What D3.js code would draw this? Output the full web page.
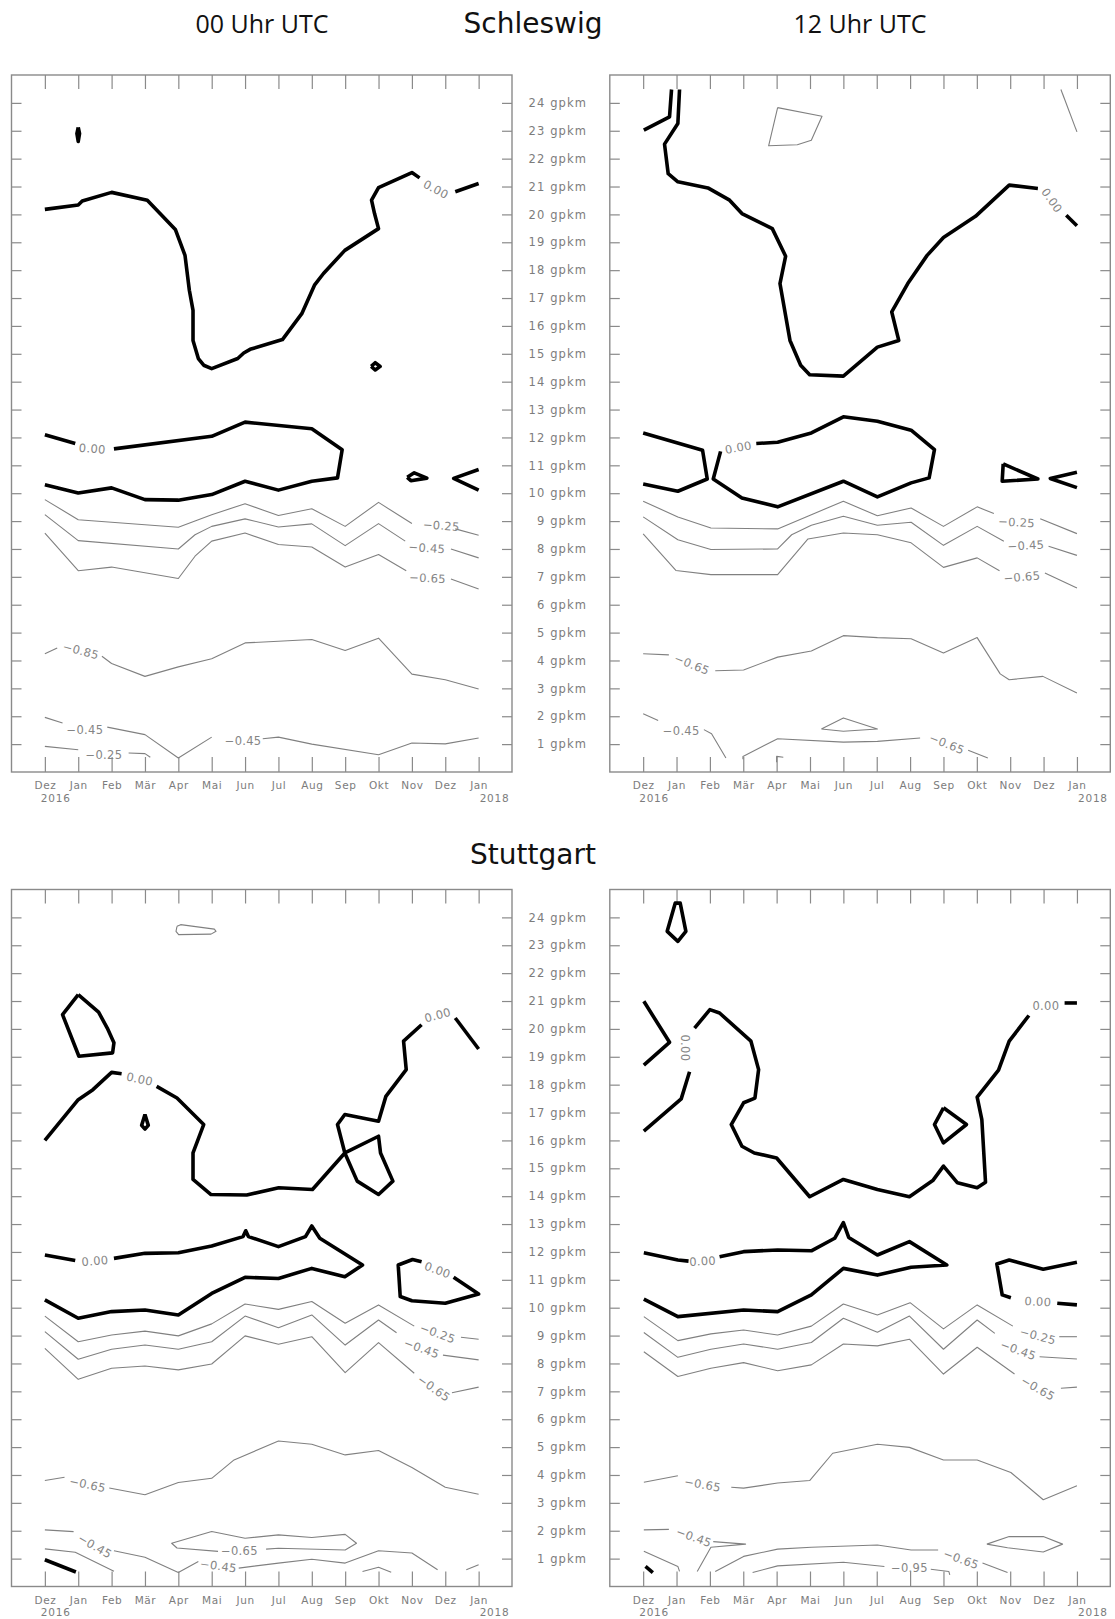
<!DOCTYPE html>
<html><head><meta charset="utf-8">
<script src="https://cdnjs.cloudflare.com/ajax/libs/d3/7.8.5/d3.min.js"></script>
<style>
html,body{margin:0;padding:0;background:#fff;}
svg{display:block;}
</style></head>
<body>
<svg id="chart" width="1115" height="1619"></svg>
<script>
// ---------------- axis data ----------------
const months = ["Dez","Jan","Feb","Mär","Apr","Mai","Jun","Jul","Aug","Sep","Okt","Nov","Dez","Jan"];
const yearLabels = [["2016",0,-4],["2018",13,1]];
const heightTicks = d3.range(1,25);
const stations = ["Schleswig","Stuttgart"];
const timeTitles = ["00 Uhr UTC","12 Uhr UTC"];

// ---------------- Schleswig 00 UTC ----------------
const sl00Bold = [
 [[0,20.18],[1,20.34],[1.12,20.48],[2,20.79],[3.07,20.51],[3.48,20.0],[3.91,19.46],[4.2,18.53],[4.33,17.28],[4.44,16.56],[4.44,15.48],[4.6,14.83],[4.76,14.59],[5,14.47],[5.78,14.83],[5.96,15.03],[6.15,15.16],[7.12,15.51],[7.7,16.44],[8.08,17.46],[8.35,17.88],[8.99,18.71],[10,19.49],[9.88,20.03],[9.79,20.51],[10,20.96],[11,21.5],[11.23,21.31]],
 [[12.3,20.81],[13,21.11]],
 [[1,23.12],[1.04,22.9],[1,22.62],[0.96,22.9],[1,23.12]],
 [[9.78,14.55],[9.9,14.68],[10.05,14.55],[9.9,14.42],[9.78,14.55]],
 [[0,12.1],[0.91,11.78]],
 [[2.07,11.59],[5,12.04],[6,12.55],[8,12.31],[8.91,11.56],[8.77,10.55],[8,10.43],[7,10.11],[6,10.43],[5,9.95],[4,9.75],[3,9.77],[2,10.19],[1,10.01],[0,10.3]],
 [[10.86,10.57],[11.07,10.73],[11.45,10.54],[10.97,10.45],[10.86,10.57]],
 [[13,10.85],[12.25,10.53],[13,10.11]]
];
const sl00Thin = [
 [[0,9.77],[1,9.05],[4,8.78],[5,9.23],[6,9.62],[7,9.2],[8,9.44],[9,8.81],[10,9.67],[11,8.91]],
 [[12.3,8.72],[13,8.49]],
 [[0,9.23],[1,8.3],[4,8.0],[4.5,8.51],[5,8.81],[6,9.08],[7,8.79],[8,8.9],[9,8.12],[10,8.91],[10.8,8.28]],
 [[12.17,8.0],[13,7.68]],
 [[0,8.57],[1,7.22],[2,7.35],[4,6.94],[4.5,7.74],[5,8.28],[6,8.57],[7,8.16],[8,8.07],[9,7.35],[10,7.8],[10.83,7.22]],
 [[12.17,6.92],[13,6.56]],
 [[0,4.24],[0.37,4.45]],
 [[1.71,4.15],[2,3.89],[3,3.43],[4,3.77],[5,4.06],[6,4.63],[7,4.69],[8,4.75],[9,4.36],[10,4.8],[11,3.51],[12,3.31],[13,2.98]],
 [[0,1.96],[0.53,1.76]],
 [[1.87,1.61],[3,1.34],[4,0.5],[5,1.25]],
 [[6.53,1.19],[7,1.25],[8,1.0],[10,0.62],[11,1.04],[12,1.01],[13,1.22]],
 [[0,0.92],[1,0.8]],
 [[2.51,0.68],[3,0.66],[3.16,0.53]]
];
const sl00Labels = [
 ["0.00",11.72,20.9,28],["0.00",1.42,11.6,4],["\u22120.25",11.88,8.84,4],["\u22120.45",11.45,8.04,4],
 ["\u22120.65",11.47,6.96,3],["\u22120.85",1.08,4.35,15],["\u22120.45",1.2,1.5,0],["\u22120.45",5.94,1.12,0],["\u22120.25",1.77,0.6,0]
];

// ---------------- Schleswig 12 UTC ----------------
const sl12Bold = [
 [[0.02,23.02],[0.79,23.5],[0.85,24.48]],
 [[1.09,24.48],[1.04,23.26],[0.64,22.52],[0.75,21.46],[1.04,21.17],[1.94,20.95],[2.59,20.51],[2.96,20.03],[3.87,19.49],[4.27,18.5],[4.1,17.52],[4.4,15.48],[4.72,14.59],[4.99,14.25],[6,14.2],[7.02,15.24],[7.66,15.48],[7.45,16.5],[7.93,17.52],[8.51,18.53],[9,19.17],[9.96,19.93],[10.97,21.05],[11.83,20.93]],
 [[12.68,19.97],[13,19.59]],
 [[0,12.16],[1.78,11.54],[1.92,10.51],[1.04,10.07],[0,10.33]],
 [[2.32,11.5],[2.1,10.51],[2.96,9.83],[4.03,9.51],[6,10.43],[7.02,9.87],[8.03,10.37],[8.57,10.55],[8.73,11.56],[8.03,12.26],[7.02,12.58],[6,12.74],[5.04,12.16],[4.03,11.83],[3.39,11.78]],
 [[10.79,11.05],[10.76,10.43],[11.83,10.51],[10.79,11.05]],
 [[13,10.75],[12.2,10.53],[13,10.2]]
];
const sl12Thin = [
 [[4.03,23.83],[5.36,23.52],[5.04,22.66],[4.62,22.5],[3.76,22.46],[4.03,23.83]],
 [[12.52,24.48],[13,22.96]],
 [[0,9.71],[1.04,9.15],[2.03,8.75],[4.03,8.72],[5.04,9.23],[6,9.71],[7.02,9.19],[8.03,9.47],[9,8.81],[10.01,9.51],[10.51,9.27]],
 [[11.9,9.08],[13,8.55]],
 [[0,9.15],[1.04,8.33],[2.03,7.98],[4.03,8.0],[4.45,8.51],[5.04,8.85],[6,9.17],[7.02,8.85],[8.03,8.96],[9,8.13],[10.01,8.81],[10.81,8.28]],
 [[12.15,8.1],[13,7.77]],
 [[0,8.54],[0.98,7.23],[2.03,7.08],[4.03,7.08],[4.94,8.36],[6,8.57],[7.02,8.51],[8.03,8.22],[9,7.34],[10.01,7.68],[10.68,7.22]],
 [[12.04,7.14],[13,6.6]],
 [[0,4.24],[0.77,4.2]],
 [[2.16,3.63],[3.01,3.66],[4.03,4.12],[5.04,4.34],[6,4.89],[7.02,4.82],[8.03,4.78],[9,4.27],[10.01,4.82],[10.7,3.52],[10.97,3.31],[11.98,3.43],[13,2.83]],
 [[0,2.09],[0.45,1.85]],
 [[1.82,1.52],[2.05,1.37],[2.48,0.5]],
 [[2.99,0.46],[2.99,0.56],[4.03,1.19],[6,1.07],[7.02,1.1],[8.3,1.22]],
 [[9.74,0.78],[10.33,0.5]],
 [[5.34,1.54],[6,1.94],[7.02,1.54],[6,1.46],[5.34,1.54]],
 [[4.0,0.35],[4.0,0.56],[4.2,0.53]]
];
const sl12Labels = [
 ["0.00",12.25,20.5,55],["0.00",2.85,11.64,-10],["\u22120.25",11.19,8.96,3],["\u22120.45",11.47,8.13,-3],
 ["\u22120.65",11.35,7.0,-5],["\u22120.65",1.46,3.86,22],["\u22120.45",1.14,1.49,0],["\u22120.65",9.1,1.01,22]
];

// ---------------- Stuttgart 00 UTC ----------------
const st00Bold = [
 [[1,21.23],[1.61,20.6],[1.87,20.03],[2.07,19.5],[2.03,19.14],[1.02,19.02],[0.53,20.51],[1,21.23]],
 [[0,16.0],[1,17.46],[1.44,17.82],[2,18.44],[2.3,18.39]],
 [[3.35,17.94],[3.96,17.52],[4.76,16.57],[4.44,15.55],[4.44,14.6],[4.98,14.06],[6.05,14.04],[7.01,14.3],[8.02,14.24],[8.99,15.55],[10,16.15],[10.06,15.55],[10.43,14.54],[10,14.06],[9.36,14.54],[8.99,15.55],[8.77,16.57],[8.99,16.93],[10,16.69],[10.22,17.58],[10.83,18.54],[10.75,19.56],[11.29,20.15]],
 [[12.3,20.39],[13,19.28]],
 [[3,16.93],[3.1,16.54],[3,16.41],[2.9,16.54],[3,16.93]],
 [[0,11.89],[0.91,11.69]],
 [[2.07,11.77],[3,11.95],[4,11.97],[5,12.21],[5.94,12.55],[6.02,12.76],[6.1,12.55],[7,12.19],[7.81,12.55],[8,12.93],[8.24,12.49],[9.52,11.53],[8.99,11.11],[8,11.41],[7,11.05],[6,11.09],[5,10.51],[4,9.74],[3,9.92],[2,9.86],[1,9.62],[0,10.28]],
 [[11.29,11.65],[11.02,11.73],[10.59,11.53],[10.65,10.4],[11,10.25],[12,10.16],[13,10.49],[12.25,11.09]],
 [[0,0.96],[0.93,0.52]]
];
const st00Thin = [
 [[3.96,23.68],[4.07,23.74],[5.08,23.58],[5.13,23.5],[4.98,23.4],[4.01,23.38],[3.93,23.5],[3.96,23.68]],
 [[0,9.7],[1,8.78],[2,9.02],[3,9.16],[4,8.99],[5,9.42],[6,10.13],[7,9.94],[8,10.22],[9,9.44],[10,10.1],[11.07,9.34]],
 [[12.47,8.94],[13,8.87]],
 [[0,9.14],[1,8.15],[2,8.51],[3,8.66],[4,8.51],[5,8.78],[6,9.7],[7,9.28],[8,9.74],[9,8.66],[10,9.56],[10.54,9.1]],
 [[11.93,8.3],[13,8.13]],
 [[0,8.54],[1,7.43],[2,7.83],[3,7.91],[4,7.77],[5,7.98],[6,8.99],[7,8.69],[8,8.96],[9,7.67],[10,8.75],[11.07,7.65]],
 [[12.2,6.95],[13,7.15]],
 [[0,3.8],[0.59,3.92]],
 [[1.93,3.53],[3,3.29],[4,3.73],[5,3.88],[5.67,4.54],[7,5.22],[8,5.1],[9,4.72],[10,4.88],[11,4.27],[12,3.56],[13,3.31]],
 [[0,2.03],[0.86,1.97]],
 [[2.07,1.28],[3,1.05],[4,0.5],[4.6,0.9]],
 [[5.81,0.66],[7,0.84],[8,0.98],[9,0.84],[10,1.28],[11,1.2],[11.77,0.6]],
 [[0,1.35],[0.91,1.23],[2.07,0.55]],
 [[9.52,0.54],[10,0.69],[10.38,0.51]],
 [[12.63,0.6],[13,0.78]],
 [[6.63,1.34],[7,1.37],[9,1.31],[9.34,1.55],[9,1.87],[8,1.76],[7,1.85],[6,1.73],[5,1.97],[3.8,1.55],[3.96,1.38],[5.19,1.26]]
];
const st00Labels = [
 ["0.00",2.84,18.2,12],["0.00",11.77,20.5,-15],["0.00",11.77,11.35,20],["0.00",1.5,11.68,-4],
 ["\u22120.25",11.77,9.08,20],["\u22120.45",11.29,8.54,20],["\u22120.65",11.66,7.11,35],["\u22120.65",1.28,3.66,12],
 ["\u22120.45",1.5,1.45,30],["\u22120.65",5.83,1.29,0],["\u22120.45",5.2,0.74,8]
];

// ---------------- Stuttgart 12 UTC ----------------
const st12Bold = [
 [[1.04,24.51],[1.11,24.51],[1.28,23.5],[1.04,23.14],[0.72,23.5],[0.96,24.51],[1.04,24.51]],
 [[0.02,20.99],[0.79,19.52],[0.02,18.7]],
 [[0.02,16.33],[1.14,17.49],[1.39,18.46]],
 [[1.54,20.03],[2,20.69],[2.29,20.57],[3.23,19.56],[3.46,18.54],[3.35,17.52],[3.01,17.35],[2.64,16.57],[2.96,15.79],[3.33,15.55],[4,15.37],[4.99,13.98],[6,14.6],[7.02,14.24],[7.98,13.98],[8.68,14.56],[9,15.08],[9.42,14.48],[10.01,14.3],[10.26,14.5],[10.15,16.75],[10.01,17.55],[10.65,18.52],[10.97,19.56],[11.56,20.48]],
 [[12.63,20.93],[13,20.93]],
 [[9,17.17],[9.69,16.57],[9,15.91],[8.73,16.57],[9,17.17]],
 [[0.02,11.97],[1.04,11.71],[1.36,11.67]],
 [[2.29,11.83],[3.01,12.01],[4.03,12.07],[5.04,12.04],[5.74,12.49],[6,13.05],[6.16,12.52],[7.02,11.89],[7.98,12.37],[9.1,11.53],[8.03,11.45],[7.02,11.17],[6,11.41],[5.04,10.46],[4.03,9.86],[3.01,9.92],[1.04,9.68],[0.02,10.31]],
 [[13,11.63],[11.99,11.38],[10.97,11.71],[10.6,11.57],[10.76,10.46],[11.02,10.36]],
 [[12.41,10.16],[13,10.1]],
 [[0.07,0.72],[0.29,0.5]]
];
const st12Thin = [
 [[0.02,9.68],[1.04,8.82],[2.03,9.06],[3.01,9.2],[4.03,9.02],[5.04,9.34],[6,10.13],[7.02,9.74],[8,10.18],[9,9.24],[10.01,10.1],[11.08,9.34]],
 [[12.47,8.96],[13,8.96]],
 [[0.02,9.11],[1.04,8.22],[2.03,8.51],[3.01,8.7],[4.03,8.51],[5.04,8.75],[6,9.62],[7.02,9.12],[7.98,9.7],[9,8.51],[10.01,9.56],[10.54,9.08]],
 [[11.88,8.24],[13,8.16]],
 [[0.02,8.42],[1.04,7.53],[2.03,7.83],[3.01,8.03],[4.03,7.74],[5.04,7.95],[6,8.7],[7.02,8.63],[7.98,8.87],[9,7.62],[10.01,8.58],[11.13,7.62]],
 [[12.52,7.11],[13,7.15]],
 [[0.02,3.74],[1.04,3.97]],
 [[2.64,3.56],[3.01,3.53],[4.03,3.71],[4.99,3.8],[5.68,4.78],[7.02,5.1],[7.98,4.99],[9,4.54],[10.01,4.54],[11.02,4.09],[11.99,3.11],[13,3.61]],
 [[0.02,2.03],[0.77,2.05]],
 [[2.1,1.61],[3.07,1.52],[2.03,1.41],[1.62,0.54]],
 [[0.02,1.26],[1.04,0.72],[1.09,0.54]],
 [[2.16,0.54],[3.01,1.08],[4.03,1.34],[5.04,1.41],[7.02,1.49],[8.03,1.31],[8.84,1.31]],
 [[10.17,0.84],[10.92,0.5]],
 [[3.28,0.5],[4.03,0.74],[6,0.87],[7.23,0.72]],
 [[8.62,0.62],[9.16,0.54],[9.19,0.42]],
 [[10.3,1.52],[10.97,1.79],[11.99,1.79],[12.57,1.52],[11.99,1.24],[10.92,1.39],[10.3,1.52]]
];
const st12Labels = [
 ["0.00",1.25,19.32,90],["0.00",12.07,20.81,0],["0.00",1.78,11.67,-3],["0.00",11.83,10.22,3],
 ["\u22120.25",11.83,8.99,15],["\u22120.45",11.24,8.48,20],["\u22120.65",11.83,7.11,30],["\u22120.65",1.78,3.66,10],
 ["\u22120.45",1.52,1.77,20],["\u22120.65",9.53,0.98,20],["\u22120.95",7.98,0.66,0]
];

// ---------------- layout ----------------
const W = 500.5, H = 697;
const colX = [11.5, 609.8];
const rowY = [75, 889.5];
const panels = [
 {x0:colX[0], y0:rowY[0], bold:sl00Bold, thin:sl00Thin, labels:sl00Labels},
 {x0:colX[1], y0:rowY[0], bold:sl12Bold, thin:sl12Thin, labels:sl12Labels},
 {x0:colX[0], y0:rowY[1], bold:st00Bold, thin:st00Thin, labels:st00Labels},
 {x0:colX[1], y0:rowY[1], bold:st12Bold, thin:st12Thin, labels:st12Labels}
];

const svg = d3.select("#chart");
const AX = "#8a8a8a";
const TXT = "#7c7c7c";
const LFONT = "'DejaVu Sans', sans-serif";

function styleAxis(g){
  g.select(".domain").remove();
  g.selectAll(".tick line").attr("stroke", AX).attr("stroke-width", 1.2);
}

function drawPanel(p){
  const g = svg.append("g");
  const x = d3.scaleLinear().domain([-1,14]).range([p.x0, p.x0 + W]);
  const y = d3.scaleLinear().domain([0,25]).range([p.y0 + H, p.y0]);
  const mTicks = d3.range(months.length);

  g.append("g").attr("transform",`translate(0,${p.y0})`)
    .call(d3.axisBottom(x).tickValues(mTicks).tickSize(14).tickFormat("")).call(styleAxis);
  g.append("g").attr("transform",`translate(0,${p.y0+H})`)
    .call(d3.axisTop(x).tickValues(mTicks).tickSize(15).tickFormat("")).call(styleAxis);
  g.append("g").attr("transform",`translate(${p.x0},0)`)
    .call(d3.axisRight(y).tickValues(heightTicks).tickSize(10).tickFormat("")).call(styleAxis);
  g.append("g").attr("transform",`translate(${p.x0+W},0)`)
    .call(d3.axisLeft(y).tickValues(heightTicks).tickSize(10).tickFormat("")).call(styleAxis);

  g.append("rect").attr("x",p.x0).attr("y",p.y0).attr("width",W).attr("height",H)
    .attr("fill","none").attr("stroke",AX).attr("stroke-width",1.4);

  // month labels
  const ml = g.append("g").attr("transform",`translate(0,${p.y0+H+13.5})`)
    .call(d3.axisBottom(x).tickValues(mTicks).tickSize(0).tickPadding(0).tickFormat(i=>months[i]));
  ml.select(".domain").remove();
  ml.selectAll("text").attr("dy","0.36em").attr("fill",TXT)
    .style("font-family",LFONT).style("font-size","10.5px").style("letter-spacing","0.6px");
  g.selectAll(".yr").data(yearLabels).enter().append("text")
    .attr("x",d=>x(d[1])+d[2]).attr("y",p.y0+H+26).attr("dy","0.36em")
    .attr("fill",TXT).style("font-family",LFONT).style("font-size","10.5px").style("letter-spacing","0.8px")
    .text(d=>d[0]);

  const line = d3.line().x(d=>x(d[0])).y(d=>y(d[1]));
  g.append("g").selectAll("path").data(p.thin).enter().append("path")
    .attr("d",line).attr("fill","none").attr("stroke","#808080").attr("stroke-width",1.1)
    .attr("stroke-linejoin","round");
  g.append("g").selectAll("path").data(p.bold).enter().append("path")
    .attr("d",line).attr("fill","none").attr("stroke","#000").attr("stroke-width",3.6)
    .attr("stroke-linejoin","round").attr("stroke-linecap","butt");
  g.append("g").selectAll("text").data(p.labels).enter().append("text")
    .attr("transform",d=>`translate(${x(d[1])},${y(d[2])}) rotate(${d[3]})`)
    .attr("text-anchor","middle").attr("dy","0.36em")
    .attr("fill","#858585").style("font-family",LFONT).style("font-size","11.5px").style("letter-spacing","0.3px")
    .text(d=>d[0]);
  return y;
}

const yScales = panels.map(drawPanel);

// middle height labels
[0,2].forEach(i=>{
  const gl = svg.append("g").attr("transform","translate(587,0)")
    .call(d3.axisLeft(yScales[i]).tickValues(heightTicks).tickSize(0).tickPadding(0).tickFormat(h=>`${h} gpkm`));
  gl.select(".domain").remove();
  gl.selectAll("text").attr("fill",TXT).style("font-family",LFONT).style("font-size","11.5px").style("letter-spacing","1.1px");
});

// titles
svg.append("text").attr("x",262).attr("y",33).attr("text-anchor","middle")
  .style("font-family","'Open Sans', sans-serif").style("font-size","25px").attr("fill","#111").text(timeTitles[0]);
svg.append("text").attr("x",860).attr("y",33).attr("text-anchor","middle")
  .style("font-family","'Open Sans', sans-serif").style("font-size","25px").attr("fill","#111").text(timeTitles[1]);
svg.append("text").attr("x",533).attr("y",33).attr("text-anchor","middle")
  .style("font-family","'DejaVu Sans', sans-serif").style("font-size","28px").attr("fill","#111").text(stations[0]);
svg.append("text").attr("x",533).attr("y",864).attr("text-anchor","middle")
  .style("font-family","'DejaVu Sans', sans-serif").style("font-size","28px").attr("fill","#111").text(stations[1]);
</script>
</body></html>
